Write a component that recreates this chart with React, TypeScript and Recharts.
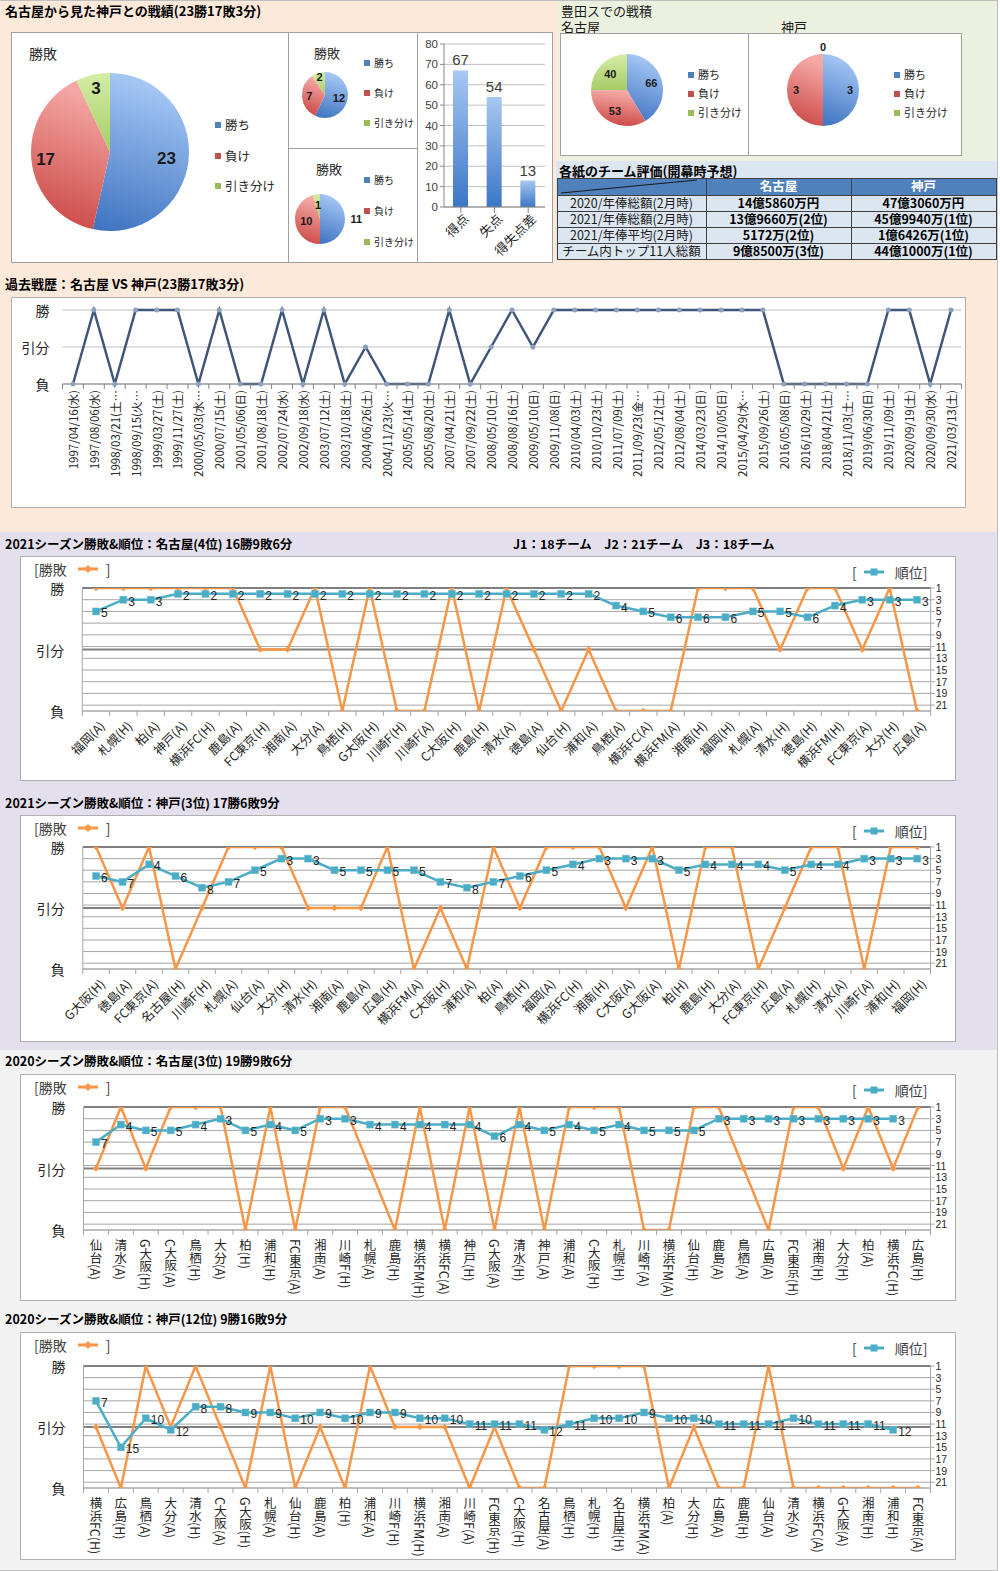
import React from 'react';
import {
  ComposedChart, Line, XAxis, YAxis, CartesianGrid, ReferenceLine, LabelList,
  PieChart, Pie, Cell, BarChart, Bar,
} from 'recharts';

const FONT = '"Noto Sans CJK JP", "Noto Sans", sans-serif';
const NUMFONT = '"Liberation Sans", "DejaVu Sans", sans-serif';
const ORANGE = '#F79646';
const TEAL = '#4BACC6';
const NAVY = '#3D5679';

// ---------- top summary ----------
const resultLabels = ['勝ち', '負け', '引き分け'];
const overallRecord = [23, 17, 3];
const homeRecord = [12, 7, 2];
const awayRecord = [11, 10, 1];
const goalCategories = ['得点', '失点', '得失点差'];
const goalValues = [67, 54, 13];
const goalTicks = [0, 10, 20, 30, 40, 50, 60, 70, 80];
const toyotaNagoya = [66, 53, 40];
const toyotaKobe = [3, 3, 0];

const tableHeader = ['', '名古屋', '神戸'];
const tableRowLabels = ['2020/年俸総額(2月時)', '2021/年俸総額(2月時)', '2021/年俸平均(2月時)', 'チーム内トップ11人総額'];
const tableNagoya = ['14億5860万円', '13億9660万(2位)', '5172万(2位)', '9億8500万(3位)'];
const tableKobe = ['47億3060万円', '45億9940万(1位)', '1億6426万(1位)', '44億1000万(1位)'];

// ---------- history ----------
const historyDates = [
  '1997/04/16(水)', '1997/08/06(水)', '1998/03/21(土…', '1998/09/15(火…', '1999/03/27(土)', '1999/11/27(土)',
  '2000/05/03(水…', '2000/07/15(土)', '2001/05/06(日)', '2001/08/18(土)', '2002/07/24(水)', '2002/09/18(水)',
  '2003/07/12(土)', '2003/10/18(土)', '2004/06/26(土)', '2004/11/23(火…', '2005/05/14(土)', '2005/08/20(土)',
  '2007/04/21(土)', '2007/09/22(土)', '2008/05/10(土)', '2008/08/16(土)', '2009/05/10(日)', '2009/11/08(日)',
  '2010/04/03(土)', '2010/10/23(土)', '2011/07/09(土)', '2011/09/23(金…', '2012/05/12(土)', '2012/08/04(土)',
  '2014/03/23(日)', '2014/10/05(日)', '2015/04/29(水…', '2015/09/26(土)', '2016/05/08(日)', '2016/10/29(土)',
  '2018/04/21(土)', '2018/11/03(土…', '2019/06/30(日)', '2019/11/09(土)', '2020/09/19(土)', '2020/09/30(水)',
  '2021/03/13(土)',
];
const historyResults = [
  'L', 'W', 'L', 'W', 'W', 'W', 'L', 'W', 'L', 'L', 'W', 'L', 'W', 'L', 'D', 'L', 'L', 'L', 'W', 'L', 'D', 'W',
  'D', 'W', 'W', 'W', 'W', 'W', 'W', 'W', 'W', 'W', 'W', 'W', 'L', 'L', 'L', 'L', 'L', 'W', 'W', 'L', 'W',
];

// ---------- seasons ----------
const nagoya2021Teams = ['福岡(A)', '札幌(H)', '柏(A)', '神戸(A)', '横浜FC(H)', '鹿島(A)', 'FC東京(H)', '湘南(A)', '大分(A)', '鳥栖(H)', 'G大阪(H)', '川崎F(H)', '川崎F(A)', 'C大阪(H)', '鹿島(H)', '清水(A)', '徳島(A)', '仙台(H)', '浦和(A)', '鳥栖(A)', '横浜FC(A)', '横浜FM(A)', '湘南(H)', '福岡(H)', '札幌(A)', '清水(H)', '徳島(H)', '横浜FM(H)', 'FC東京(A)', '大分(H)', '広島(A)'];
const nagoya2021Results = ['W', 'W', 'W', 'W', 'W', 'W', 'D', 'D', 'W', 'L', 'W', 'L', 'L', 'W', 'L', 'W', 'D', 'L', 'D', 'L', 'L', 'L', 'W', 'W', 'W', 'D', 'W', 'W', 'D', 'W', 'L'];
const nagoya2021Ranks = [5, 3, 3, 2, 2, 2, 2, 2, 2, 2, 2, 2, 2, 2, 2, 2, 2, 2, 2, 4, 5, 6, 6, 6, 5, 5, 6, 4, 3, 3, 3];

const kobe2021Teams = ['G大阪(H)', '徳島(A)', 'FC東京(A)', '名古屋(H)', '川崎F(H)', '札幌(A)', '仙台(A)', '大分(H)', '清水(H)', '湘南(A)', '鹿島(A)', '広島(H)', '横浜FM(A)', 'C大阪(H)', '浦和(A)', '柏(A)', '鳥栖(H)', '福岡(A)', '横浜FC(H)', '湘南(H)', 'C大阪(A)', 'G大阪(A)', '柏(H)', '鹿島(H)', '大分(A)', 'FC東京(H)', '広島(A)', '札幌(H)', '清水(A)', '川崎F(A)', '浦和(H)', '福岡(H)'];
const kobe2021Results = ['W', 'D', 'W', 'L', 'D', 'W', 'W', 'W', 'D', 'D', 'D', 'W', 'L', 'D', 'L', 'W', 'D', 'W', 'W', 'W', 'D', 'W', 'L', 'W', 'W', 'L', 'D', 'W', 'W', 'L', 'W', 'W'];
const kobe2021Ranks = [6, 7, 4, 6, 8, 7, 5, 3, 3, 5, 5, 5, 5, 7, 8, 7, 6, 5, 4, 3, 3, 3, 5, 4, 4, 4, 5, 4, 4, 3, 3, 3];

const nagoya2020Teams = ['仙台(A)', '清水(A)', 'G大阪(H)', 'C大阪(A)', '鳥栖(H)', '大分(A)', '柏(H)', '浦和(H)', 'FC東京(A)', '湘南(A)', '川崎F(H)', '札幌(A)', '鹿島(H)', '横浜FM(H)', '横浜FC(A)', '神戸(H)', 'G大阪(A)', '清水(H)', '神戸(A)', '浦和(A)', 'C大阪(H)', '札幌(H)', '川崎F(A)', '横浜FM(A)', '仙台(H)', '鹿島(A)', '鳥栖(A)', '広島(A)', 'FC東京(H)', '湘南(H)', '大分(H)', '柏(A)', '横浜FC(H)', '広島(H)'];
const nagoya2020Results = ['D', 'W', 'D', 'W', 'W', 'W', 'L', 'W', 'L', 'W', 'W', 'D', 'L', 'W', 'L', 'W', 'L', 'W', 'L', 'W', 'W', 'W', 'L', 'L', 'W', 'W', 'D', 'L', 'W', 'W', 'D', 'W', 'D', 'W'];
const nagoya2020Ranks: (number | null)[] = [7, 4, 5, 5, 4, 3, 5, 4, 5, 3, 3, 4, 4, 4, 4, 4, 6, 4, 5, 4, 5, 4, 5, 5, 5, 3, 3, 3, 3, 3, 3, 3, 3, null];

const kobe2020Teams = ['横浜FC(H)', '広島(H)', '鳥栖(A)', '大分(A)', '清水(H)', 'C大阪(A)', 'G大阪(H)', '札幌(A)', '仙台(H)', '鹿島(A)', '柏(H)', '浦和(A)', '川崎F(H)', '横浜FM(H)', '湘南(A)', '川崎F(A)', 'FC東京(H)', 'C大阪(H)', '名古屋(A)', '鳥栖(H)', '札幌(H)', '名古屋(H)', '横浜FM(A)', '柏(A)', '大分(H)', '広島(A)', '鹿島(H)', '仙台(A)', '清水(A)', '横浜FC(A)', 'G大阪(A)', '湘南(H)', '浦和(H)', 'FC東京(A)'];
const kobe2020Results = ['D', 'L', 'W', 'D', 'W', 'D', 'L', 'W', 'L', 'D', 'L', 'W', 'D', 'D', 'D', 'L', 'D', 'L', 'L', 'W', 'W', 'W', 'W', 'L', 'D', 'L', 'L', 'W', 'L', 'L', 'L', 'L', 'L', 'L'];
const kobe2020Ranks: (number | null)[] = [7, 15, 10, 12, 8, 8, 9, 9, 10, 9, 10, 9, 9, 10, 10, 11, 11, 11, 12, 11, 10, 10, 9, 10, 10, 11, 11, 11, 10, 11, 11, 11, 12, null];

const RESULT_VALUE: Record<string, number> = { W: 1, D: 0, L: -1 };
const resultAxisTicks = [-1, 0, 1];
const resultAxisLabels = ['負', '引分', '勝'];
const rankTicks = [1, 3, 5, 7, 9, 11, 13, 15, 17, 19, 21];

const RAD = Math.PI / 180;
const sliceGrad = ['gBlue', 'gRed', 'gGreen'];
const sliceSolid = ['#4F81BD', '#C0504D', '#9BBB59'];

function Gradients() {
  return (
    <svg width={0} height={0} style={{ position: 'absolute', left: 0, top: 0 }}>
      <defs>
        <linearGradient id="gBlue" x1="0.2" y1="0" x2="0" y2="1">
          <stop offset="0" stopColor="#A3C6F4" />
          <stop offset="1" stopColor="#3D72C0" />
        </linearGradient>
        <linearGradient id="gRed" x1="0.2" y1="0" x2="0" y2="1">
          <stop offset="0" stopColor="#F4A7A5" />
          <stop offset="1" stopColor="#C8413E" />
        </linearGradient>
        <linearGradient id="gGreen" x1="0" y1="0" x2="0" y2="1">
          <stop offset="0" stopColor="#D4EDA5" />
          <stop offset="1" stopColor="#A6CC66" />
        </linearGradient>
        <linearGradient id="gBar" x1="0" y1="0" x2="0" y2="1">
          <stop offset="0" stopColor="#A7C8F2" />
          <stop offset="1" stopColor="#3B76C6" />
        </linearGradient>
      </defs>
    </svg>
  );
}

const Txt = ({ x, y, size = 13, bold = false, color = '#000', children }: any) => (
  <div style={{ position: 'absolute', left: x, top: y, fontSize: size, fontWeight: bold ? 700 : 400, color, whiteSpace: 'nowrap', lineHeight: 1 }}>
    {children}
  </div>
);

function PieLegend({ x, y, gap, size = 12 }: any) {
  return (
    <div style={{ position: 'absolute', left: x, top: y }}>
      {resultLabels.map((l, i) => (
        <div key={l} style={{ position: 'absolute', left: 0, top: i * gap, display: 'flex', alignItems: 'center', fontSize: size, color: '#262626', whiteSpace: 'nowrap', lineHeight: 1 }}>
          <span style={{ display: 'inline-block', width: 6, height: 6, background: sliceSolid[i], marginRight: 4 }} />
          {l}
        </div>
      ))}
    </div>
  );
}

function RecordPie({ values, x, y, w, h, cx, cy, r, factors, fontSize }: any) {
  const data = resultLabels.map((name, i) => ({ name, value: values[i] }));
  const renderLabel = (p: any) => {
    const f = factors[p.index];
    const rr = p.outerRadius * f;
    const px = p.cx + rr * Math.cos(-p.midAngle * RAD);
    const py = p.cy + rr * Math.sin(-p.midAngle * RAD);
    return (
      <text key={`l${p.index}`} x={px} y={py} textAnchor="middle" dominantBaseline="central" fontSize={fontSize} fontWeight={700} fill="#1a1a1a" fontFamily={NUMFONT}>
        {p.value}
      </text>
    );
  };
  return (
    <div style={{ position: 'absolute', left: x, top: y, width: w, height: h }}>
      <PieChart width={w} height={h} margin={{ top: 0, right: 0, bottom: 0, left: 0 }}>
        <Pie data={data} dataKey="value" nameKey="name" cx={cx} cy={cy} outerRadius={r} startAngle={90} endAngle={-270}
          isAnimationActive={false} stroke="none" label={renderLabel} labelLine={false}>
          {data.map((d, i) => <Cell key={d.name} fill={`url(#${sliceGrad[i]})`} />)}
        </Pie>
      </PieChart>
    </div>
  );
}

function GoalBars() {
  const data = goalCategories.map((name, i) => ({ name, value: goalValues[i] }));
  const axisY = 174;
  const renderTick = (p: any) => {
    const x = p.x + 5;
    const y = axisY + 9;
    return (
      <text x={x} y={y} textAnchor="end" fontSize={13} fill="#262626" fontFamily={FONT} transform={`rotate(-45, ${x}, ${y})`} dominantBaseline="central">
        {p.payload.value}
      </text>
    );
  };
  return (
    <div style={{ position: 'absolute', left: 417, top: 33, width: 135, height: 229 }}>
      <BarChart width={135} height={229} data={data} margin={{ top: 11, right: 7, bottom: 0, left: 0 }} barCategoryGap="50%">
        <CartesianGrid vertical={false} stroke="#BFBFBF" />
        <XAxis dataKey="name" interval={0} height={55} tickLine={{ stroke: '#868686' }} axisLine={{ stroke: '#868686' }} tick={renderTick} />
        <YAxis type="number" domain={[0, 80]} ticks={goalTicks} width={27} interval={0} tickSize={4}
          tick={{ fontSize: 11.5, fill: '#404040', fontFamily: NUMFONT }} axisLine={{ stroke: '#868686' }} tickLine={{ stroke: '#868686' }} />
        <Bar dataKey="value" fill="url(#gBar)" barSize={15} isAnimationActive={false}>
          <LabelList dataKey="value" position="top" offset={5} style={{ fontSize: 15, fill: '#404040', fontFamily: NUMFONT }} />
        </Bar>
      </BarChart>
    </div>
  );
}

function HistoryChart() {
  const box = { x: 12, y: 298, w: 953, h: 209 };
  const plot = { l: 62.5, r: 961.5, t: 310, b: 384 };
  const data = historyDates.map((d, i) => ({ date: d, res: RESULT_VALUE[historyResults[i]] }));
  const LW = 40;
  const axisY = plot.b - box.y;
  const band = (plot.r - plot.l) / historyDates.length;
  const renderX = (p: any) => {
    const x = p.x;
    const y = axisY + 6;
    return (
      <g>
        <line x1={x - band / 2} y1={axisY} x2={x - band / 2} y2={axisY + 5} stroke="#868686" />
        {p.index === historyDates.length - 1 && <line x1={x + band / 2} y1={axisY} x2={x + band / 2} y2={axisY + 5} stroke="#868686" />}
        <text x={x} y={y} textAnchor="end" dominantBaseline="central" fontSize={11.5} fill="#262626" fontFamily={FONT} transform={`rotate(-90, ${x}, ${y})`}>
          {p.payload.value}
        </text>
      </g>
    );
  };
  const renderLeft = (p: any) => (
    <text x={plot.l - box.x - 13} y={p.y} textAnchor="end" dominantBaseline="central" fontSize={14} fill="#262626" fontFamily={FONT}>
      {resultAxisLabels[resultAxisTicks.indexOf(p.payload.value)]}
    </text>
  );
  return (
    <div style={{ position: 'absolute', left: box.x, top: box.y, width: box.w, height: box.h, background: '#fff', outline: '1px solid #B0B0B0' }}>
      <ComposedChart width={box.w} height={box.h} data={data}
        margin={{ top: plot.t - box.y, right: box.x + box.w - plot.r, bottom: 0, left: plot.l - box.x - LW }}>
        <CartesianGrid vertical={false} stroke="#BFBFBF" />
        <XAxis dataKey="date" interval={0} scale="point" padding={{ left: band / 2, right: band / 2 }}
          height={box.y + box.h - plot.b} tickLine={false} axisLine={{ stroke: '#868686' }} tick={renderX} />
        <YAxis type="number" domain={[-1, 1]} ticks={resultAxisTicks} width={LW} tick={renderLeft} tickLine={false} axisLine={false} />
        <Line dataKey="res" stroke={NAVY} strokeWidth={2.5} isAnimationActive={false}
          dot={{ r: 2.5, fill: '#8C9FBE', stroke: '#8C9FBE', strokeWidth: 0 }} activeDot={false} />
      </ComposedChart>
    </div>
  );
}

function SeasonChart({ teams, results, ranks, box, plot, vertical }: any) {
  const data = teams.map((t: string, i: number) => ({ team: t, res: RESULT_VALUE[results[i]], rank: ranks[i] }));
  const LW = 40;
  const RW = 24;
  const axisY = plot.b - box.y;
  const plotL = plot.l - box.x;
  const plotR = plot.r - box.x;
  const band = (plot.r - plot.l) / teams.length;

  const renderX = (p: any) => {
    const x = p.x;
    const label = p.payload.value;
    const tickMarks = (
      <>
        <line x1={x - band / 2} y1={axisY} x2={x - band / 2} y2={axisY + 5} stroke="#A6A6A6" />
        {p.index === teams.length - 1 && <line x1={x + band / 2} y1={axisY} x2={x + band / 2} y2={axisY + 5} stroke="#A6A6A6" />}
      </>
    );
    if (vertical) {
      return (
        <g>
          {tickMarks}
          <text x={x} y={axisY + 9} textAnchor="start" fontSize={12.5} fill="#262626" fontFamily={FONT} style={{ writingMode: 'vertical-rl' } as any}>
            {label}
          </text>
        </g>
      );
    }
    const tx = x + 6;
    const ty = axisY + 12;
    return (
      <g>
        {tickMarks}
        <text x={tx} y={ty} textAnchor="end" dominantBaseline="central" fontSize={12.5} fill="#262626" fontFamily={FONT} transform={`rotate(-45, ${tx}, ${ty})`}>
          {label}
        </text>
      </g>
    );
  };
  const renderLeft = (p: any) => (
    <text x={plotL - 18} y={p.y} textAnchor="end" dominantBaseline="central" fontSize={14} fill="#262626" fontFamily={FONT}>
      {resultAxisLabels[resultAxisTicks.indexOf(p.payload.value)]}
    </text>
  );
  const renderRight = (p: any) => (
    <text x={plotR + 5} y={p.y} textAnchor="start" dominantBaseline="central" fontSize={10.5} fill="#262626" fontFamily={NUMFONT}>
      {p.payload.value}
    </text>
  );
  const diamond = (p: any) => {
    const k = `o${p.index}`;
    if (p.cy == null || p.value == null) return <g key={k} />;
    return <path key={k} d={`M${p.cx} ${p.cy - 3.2} L${p.cx + 3.2} ${p.cy} L${p.cx} ${p.cy + 3.2} L${p.cx - 3.2} ${p.cy}Z`} fill={ORANGE} />;
  };
  const square = (p: any) => {
    const k = `s${p.index}`;
    if (p.cy == null || p.value == null) return <g key={k} />;
    return <rect key={k} x={p.cx - 3.5} y={p.cy - 3.5} width={7} height={7} fill={TEAL} stroke="#6FC0D6" strokeWidth={0.5} />;
  };
  const rankLabel = (p: any) => {
    const vb = p.viewBox || {};
    const x = p.x ?? vb.x;
    const y = p.y ?? vb.y;
    if (p.value == null || x == null || y == null) return null;
    return (
      <text key={`t${p.index}`} x={x + 5} y={y + 2} dominantBaseline="central" fontSize={12} fill="#262626" fontFamily={NUMFONT}>
        {p.value}
      </text>
    );
  };

  return (
    <div style={{ position: 'absolute', left: box.x, top: box.y, width: box.w, height: box.h, background: '#fff', outline: '1px solid #B0B0B0' }}>
      <ComposedChart width={box.w} height={box.h} data={data}
        margin={{ top: plot.t - box.y, right: box.x + box.w - plot.r - RW, bottom: 0, left: plot.l - box.x - LW }}>
        <CartesianGrid vertical={false} yAxisId="rank" stroke="#A6A6A6" />
        <XAxis dataKey="team" interval={0} scale="point" padding={{ left: band / 2, right: band / 2 }}
          height={box.y + box.h - plot.b} tickLine={false} axisLine={{ stroke: '#A6A6A6' }} tick={renderX} />
        <YAxis yAxisId="res" orientation="left" type="number" domain={[-1, 1]} ticks={resultAxisTicks} width={LW} allowDataOverflow
          tick={renderLeft} tickLine={false} axisLine={{ stroke: '#A6A6A6' }} />
        <YAxis yAxisId="rank" orientation="right" type="number" domain={[1, 22]} reversed ticks={rankTicks} interval={0} width={RW} allowDataOverflow
          tick={renderRight} tickSize={4} tickLine={{ stroke: '#A6A6A6' }} axisLine={{ stroke: '#A6A6A6' }} />
        <ReferenceLine yAxisId="res" y={1} stroke="#7F7F7F" strokeWidth={2} />
        <ReferenceLine yAxisId="res" y={0} stroke="#7F7F7F" strokeWidth={2} />
        <Line yAxisId="res" dataKey="res" stroke={ORANGE} strokeWidth={2.5} isAnimationActive={false} dot={diamond} activeDot={false} />
        <Line yAxisId="rank" dataKey="rank" stroke={TEAL} strokeWidth={2.5} isAnimationActive={false} dot={square} activeDot={false} connectNulls={false}>
          <LabelList dataKey="rank" content={rankLabel} />
        </Line>
      </ComposedChart>
      <div style={{ position: 'absolute', left: 13, top: 5, display: 'flex', alignItems: 'center', fontSize: 14, color: '#404040', lineHeight: 1, whiteSpace: 'nowrap' }}>
        <span>[勝敗</span>
        <svg width={22} height={12} style={{ marginLeft: 10 }}>
          <line x1={1} y1={6} x2={21} y2={6} stroke={ORANGE} strokeWidth={3} />
          <path d="M11 2 L15 6 L11 10 L7 6Z" fill={ORANGE} />
        </svg>
        <span style={{ marginLeft: 7 }}>]</span>
      </div>
      <div style={{ position: 'absolute', left: box.w - 103, top: 8, display: 'flex', alignItems: 'center', fontSize: 14, color: '#404040', lineHeight: 1, whiteSpace: 'nowrap' }}>
        <span>[</span>
        <svg width={22} height={12} style={{ marginLeft: 6 }}>
          <line x1={1} y1={6} x2={21} y2={6} stroke={TEAL} strokeWidth={3} />
          <rect x={7.5} y={2.5} width={7} height={7} fill={TEAL} />
        </svg>
        <span style={{ marginLeft: 10 }}>順位]</span>
      </div>
    </div>
  );
}

function ValueTable() {
  const cols = [557, 706, 851, 996];
  const rowTop = 178;
  const headH = 17;
  const rowH = 16;
  const cell = (x0: number, x1: number, y: number, h: number, content: string, opts: any = {}) => (
    <div key={`${x0}-${y}`} style={{
      position: 'absolute', left: x0, top: y, width: x1 - x0, height: h, boxSizing: 'border-box',
      border: '1px solid #404040', background: opts.bg || '#DCE6F1', color: opts.color || '#000',
      fontSize: 12.5, fontWeight: opts.bold ? 700 : 400, display: 'flex', alignItems: 'center', justifyContent: 'center',
      lineHeight: 1, whiteSpace: 'nowrap', marginLeft: -0.5, marginTop: -0.5,
    }}>{content}</div>
  );
  const out: any[] = [];
  tableHeader.forEach((h, i) => out.push(cell(cols[i], cols[i + 1] + 1, rowTop, headH + 1, h, { bg: '#4F81BD', color: '#fff', bold: true })));
  tableRowLabels.forEach((lab, r) => {
    const y = rowTop + headH + r * rowH;
    out.push(cell(cols[0], cols[1] + 1, y, rowH + 1, lab, { color: '#1a1a1a' }));
    out.push(cell(cols[1], cols[2] + 1, y, rowH + 1, tableNagoya[r], { bold: true }));
    out.push(cell(cols[2], cols[3] + 1, y, rowH + 1, tableKobe[r], { bold: true }));
  });
  return (
    <>
      {out}
      <svg width={150} height={headH} style={{ position: 'absolute', left: cols[0], top: rowTop }}>
        <line x1={4} y1={headH - 2} x2={140} y2={2} stroke="#1a1a1a" strokeWidth={1.2} />
      </svg>
    </>
  );
}

export default function App() {
  return (
    <div style={{ position: 'absolute', left: 0, top: 0, width: 1000, height: 1571, fontFamily: FONT, overflow: 'hidden', background: '#fff' }}>
      <Gradients />
      {/* section backgrounds */}
      <div style={{ position: 'absolute', left: 0, top: 0, width: 997, height: 532, background: '#FDE9D9', borderRight: '1px solid #BFBFBF', borderTop: '1px solid #BFBFBF' }} />
      <div style={{ position: 'absolute', left: 558, top: 1, width: 439, height: 160, background: '#EBF1DE' }} />
      <div style={{ position: 'absolute', left: 556, top: 161, width: 441, height: 99, background: '#DCE6F1' }} />
      <div style={{ position: 'absolute', left: 0, top: 532, width: 997, height: 518, background: '#E4DFEC', borderRight: '1px solid #BFBFBF' }} />
      <div style={{ position: 'absolute', left: 0, top: 1050, width: 997, height: 520, background: '#F2F2F2', borderRight: '1px solid #BFBFBF', borderBottom: '1px solid #BFBFBF' }} />

      {/* top-left summary */}
      <Txt x={5} y={4} size={13} bold>名古屋から見た神戸との戦績(23勝17敗3分)</Txt>
      <div style={{ position: 'absolute', left: 12, top: 33, width: 540, height: 229, background: '#fff', outline: '1px solid #A0A0A0' }} />
      <div style={{ position: 'absolute', left: 288, top: 33, width: 1, height: 229, background: '#A0A0A0' }} />
      <div style={{ position: 'absolute', left: 417, top: 33, width: 1, height: 229, background: '#A0A0A0' }} />
      <div style={{ position: 'absolute', left: 288, top: 148, width: 129, height: 1, background: '#A0A0A0' }} />
      <Txt x={29} y={46} size={14} color="#262626">勝敗</Txt>
      <RecordPie values={overallRecord} x={12} y={33} w={276} h={229} cx={98} cy={119} r={79} factors={[0.72, 0.82, 0.82]} fontSize={17} />
      <PieLegend x={215} y={119} gap={30.5} size={12.5} />
      <Txt x={314} y={46} size={13} color="#262626">勝敗</Txt>
      <RecordPie values={homeRecord} x={288} y={33} w={129} h={115} cx={37} cy={62} r={23} factors={[0.62, 0.68, 0.8]} fontSize={11} />
      <PieLegend x={364} y={58} gap={30} size={10} />
      <Txt x={316} y={162} size={13} color="#262626">勝敗</Txt>
      <RecordPie values={awayRecord} x={288} y={148} w={129} h={114} cx={32} cy={71} r={25} factors={[1.45, 0.55, 0.55]} fontSize={11} />
      <PieLegend x={364} y={175} gap={31} size={10} />
      <GoalBars />

      {/* Toyota */}
      <Txt x={561} y={4} size={13} color="#1a1a1a">豊田スでの戦積</Txt>
      <Txt x={561} y={20} size={13} color="#1a1a1a">名古屋</Txt>
      <Txt x={781} y={20} size={13} color="#1a1a1a">神戸</Txt>
      <div style={{ position: 'absolute', left: 561, top: 34, width: 187, height: 121, background: '#fff', outline: '1px solid #A0A0A0' }} />
      <div style={{ position: 'absolute', left: 749, top: 34, width: 212, height: 121, background: '#fff', outline: '1px solid #A0A0A0' }} />
      <RecordPie values={toyotaNagoya} x={561} y={34} w={187} h={121} cx={66} cy={56} r={36} factors={[0.7, 0.68, 0.65]} fontSize={11} />
      <PieLegend x={688} y={69} gap={19} size={11} />
      <RecordPie values={toyotaKobe} x={749} y={34} w={212} h={121} cx={74} cy={56} r={36} factors={[0.75, 0.75, 1.2]} fontSize={11} />
      <PieLegend x={894} y={69} gap={19} size={11} />

      {/* table */}
      <Txt x={559} y={164} size={13} bold>各紙のチーム評価(開幕時予想)</Txt>
      <ValueTable />

      {/* history */}
      <Txt x={5} y={277} size={13} bold>過去戦歴：名古屋 VS 神戸(23勝17敗3分)</Txt>
      <HistoryChart />

      {/* 2021 */}
      <Txt x={5} y={538} size={12.5} bold>2021シーズン勝敗&amp;順位：名古屋(4位) 16勝9敗6分</Txt>
      <Txt x={513} y={538} size={12.5} bold>J1：18チーム　J2：21チーム　J3：18チーム</Txt>
      <SeasonChart teams={nagoya2021Teams} results={nagoya2021Results} ranks={nagoya2021Ranks}
        box={{ x: 21, y: 557, w: 934, h: 223 }} plot={{ l: 82.3, r: 930.7, t: 588, b: 711 }} vertical={false} />
      <Txt x={5} y={797} size={12.5} bold>2021シーズン勝敗&amp;順位：神戸(3位) 17勝6敗9分</Txt>
      <SeasonChart teams={kobe2021Teams} results={kobe2021Results} ranks={kobe2021Ranks}
        box={{ x: 21, y: 816, w: 934, h: 225 }} plot={{ l: 82.8, r: 930.5, t: 847, b: 969 }} vertical={false} />

      {/* 2020 */}
      <Txt x={5} y={1055} size={12.5} bold>2020シーズン勝敗&amp;順位：名古屋(3位) 19勝9敗6分</Txt>
      <SeasonChart teams={nagoya2020Teams} results={nagoya2020Results} ranks={nagoya2020Ranks}
        box={{ x: 21, y: 1075, w: 934, h: 225 }} plot={{ l: 83.5, r: 930.5, t: 1107, b: 1230 }} vertical />
      <Txt x={5} y={1313} size={12.5} bold>2020シーズン勝敗&amp;順位：神戸(12位) 9勝16敗9分</Txt>
      <SeasonChart teams={kobe2020Teams} results={kobe2020Results} ranks={kobe2020Ranks}
        box={{ x: 21, y: 1333, w: 934, h: 226 }} plot={{ l: 83.5, r: 930.5, t: 1366, b: 1488 }} vertical />
    </div>
  );
}
